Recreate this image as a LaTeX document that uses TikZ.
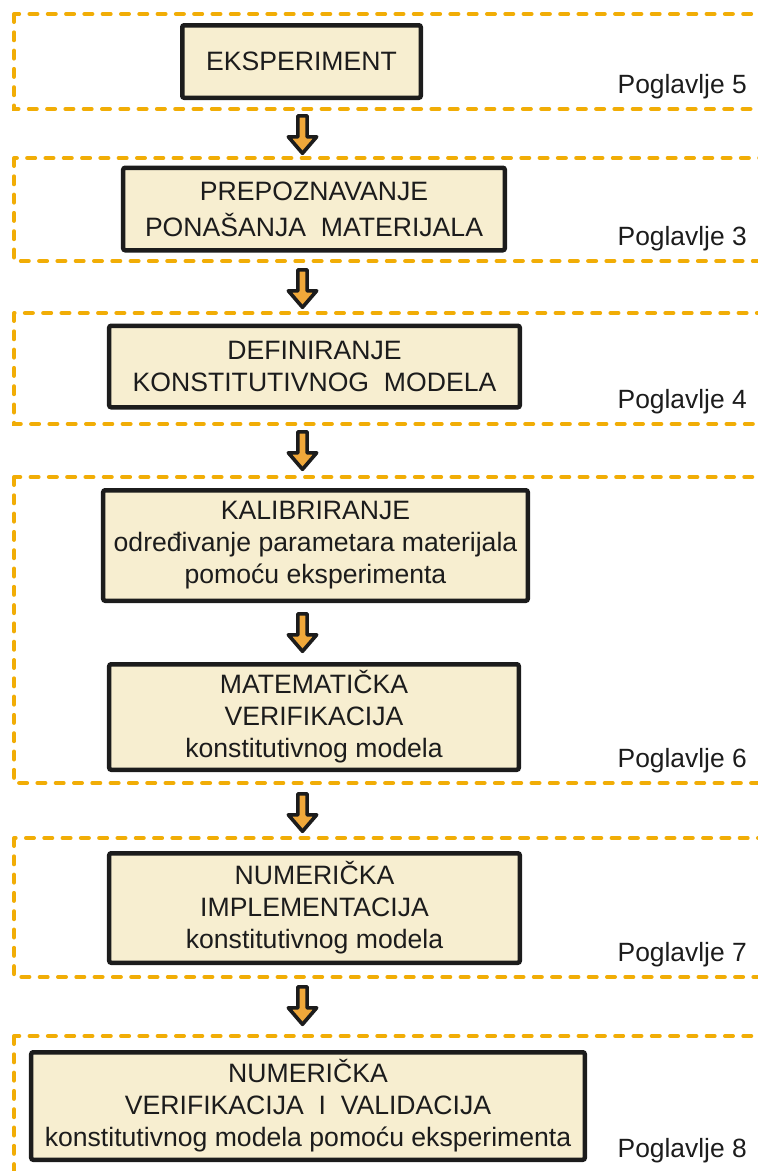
\documentclass[tikz,border=0pt]{standalone}
\usepackage{fontspec}
\setmainfont{Liberation Sans}
\definecolor{frameor}{RGB}{241,173,6}
\definecolor{boxfill}{RGB}{247,238,208}
\definecolor{ink}{RGB}{28,28,28}
\definecolor{arrowor}{RGB}{240,168,58}
\begin{document}
\begin{tikzpicture}[x=1bp,y=-1bp,
 frame/.style={draw=frameor,line width=4bp,dash pattern=on 8bp off 10.3bp,line cap=round},
 stepbox/.style={draw=ink,fill=boxfill,line width=4.5bp,rounded corners=2bp,inner sep=0pt,align=center,text=ink,font=\fontsize{26.6bp}{32bp}\selectfont},
 chap/.style={anchor=base east,inner sep=0pt,text=ink,font=\fontsize{26.4bp}{32bp}\selectfont},
 downarr/.pic={\draw[draw=ink,fill=arrowor,line width=3.6bp,line join=round] (-4.6,0) -- (-4.6,21) -- (-14.2,21) -- (0,37.5) -- (14.2,21) -- (4.6,21) -- (4.6,0) -- cycle;}
]
\useasboundingbox (0,0) rectangle (758,1171);
\clip (0,0) rectangle (758,1171);
% frames
\draw[frame] (14,14) rectangle (800,109);
\draw[frame] (14,158) rectangle (800,261);
\draw[frame] (14,313) rectangle (800,424);
\draw[frame] (14,477) rectangle (800,783);
\draw[frame] (14,838) rectangle (800,977);
\draw[frame] (14,1036) rectangle (800,1250);
% boxes
\node[stepbox,minimum width=238.5bp,minimum height=72.5bp] (b1) at (301.5,61.5) {EKSPERIMENT};
\node[stepbox,minimum width=381.5bp,minimum height=82.5bp,font=\fontsize{26.6bp}{36bp}\selectfont] (b2) at (314,209) {PREPOZNAVANJE\\PONAŠANJA\ \ MATERIJALA};
\node[stepbox,minimum width=410.5bp,minimum height=81.5bp] (b3) at (314.5,366.5) {DEFINIRANJE\\KONSTITUTIVNOG\ \ MODELA};
\node[stepbox,minimum width=424.5bp,minimum height=110.5bp] (b4) at (315.5,545.5) {KALIBRIRANJE\\određivanje parametara materijala\\pomoću eksperimenta};
\node[stepbox,minimum width=409.5bp,minimum height=105.5bp] (b5) at (314,717) {MATEMATIČKA\\VERIFIKACIJA\\konstitutivnog modela};
\node[stepbox,minimum width=410.5bp,minimum height=109.5bp] (b6) at (314.5,908) {NUMERIČKA\\IMPLEMENTACIJA\\konstitutivnog modela};
\node[stepbox,minimum width=553.5bp,minimum height=107.5bp] (b7) at (308,1106) {NUMERIČKA\\VERIFIKACIJA\ \ I\ \ VALIDACIJA\\konstitutivnog modela pomoću eksperimenta};
% arrows
\coordinate (a1) at (302.5,115.8);
\coordinate (a2) at (302.5,269.8);
\coordinate (a3) at (302.5,431.8);
\coordinate (a4) at (302.5,613.8);
\coordinate (a5) at (302.5,793.8);
\coordinate (a6) at (302.5,986.8);
\pic at (a1) {downarr};
\pic at (a2) {downarr};
\pic at (a3) {downarr};
\pic at (a4) {downarr};
\pic at (a5) {downarr};
\pic at (a6) {downarr};
% chapter labels
\node[chap] (p5) at (747,93) {Poglavlje 5};
\node[chap] (p3) at (747,245) {Poglavlje 3};
\node[chap] (p4) at (747,408) {Poglavlje 4};
\node[chap] (p6) at (747,767) {Poglavlje 6};
\node[chap] (p7) at (747,961) {Poglavlje 7};
\node[chap] (p8) at (747,1157) {Poglavlje 8};
\end{tikzpicture}
\end{document}
